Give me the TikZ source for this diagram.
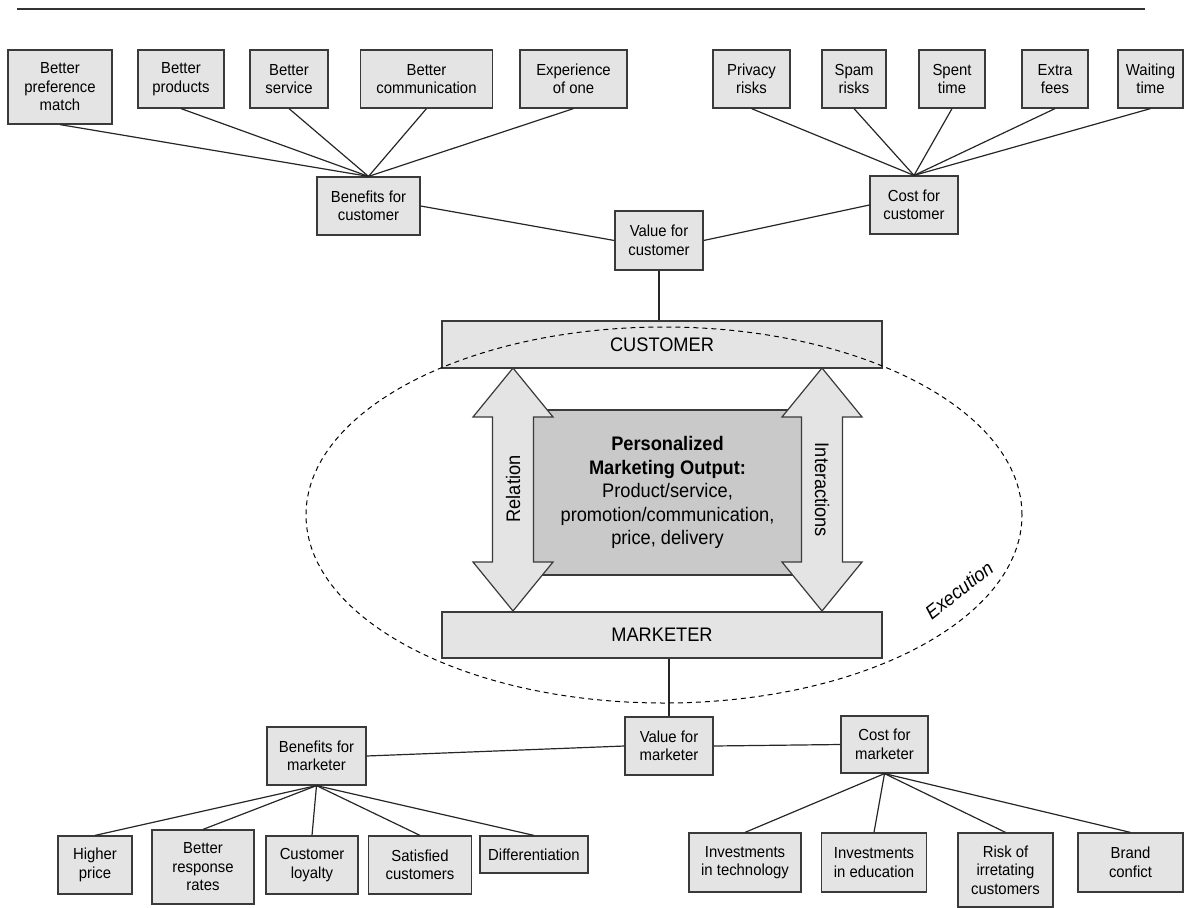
\documentclass[tikz,border=0pt]{standalone}
\usepackage{fontspec}
\setmainfont{Liberation Sans}[FakeStretch=0.93]
\definecolor{boxgray}{HTML}{E4E4E4}
\definecolor{midgray}{HTML}{C9C9C9}
\definecolor{edge}{HTML}{3A3A3A}
\begin{document}
\begin{tikzpicture}[x=1pt, y=-1pt]
		\tikzset{bx/.style={rectangle, draw=edge, fill=boxgray, line width=1.2pt, inner sep=0pt, align=center, font=\fontsize{16}{18.5}\selectfont}};
		\tikzset{bigtxt/.style={font=\fontsize{19.6}{23.5}\selectfont}};
		\tikzset{bar/.style={bx, bigtxt, minimum width=440pt, minimum height=47pt}};
		\tikzset{ln/.style={line width=1.2pt, black!85}};

		\useasboundingbox (0,0) rectangle (1185,907);
		\draw[line width=2pt, black!80] (17,9.5) -- (1145,9.5);

		\node[bx, minimum width=104pt, minimum height=74pt] (pref) at (60, 87) {Better\\preference\\match};
		\node[bx, minimum width=86pt, minimum height=58pt] (prod) at (181, 79) {Better\\products};
		\node[bx, minimum width=78pt, minimum height=58pt] (serv) at (289, 79) {Better\\service};
		\node[bx, minimum width=132pt, minimum height=58pt] (comm) at (426.5, 79) {Better\\communication};
		\node[bx, minimum width=107pt, minimum height=58pt] (one) at (573.5, 79) {Experience\\of one};
		\node[bx, minimum width=77pt, minimum height=58pt] (priv) at (751.5, 79) {Privacy\\risks};
		\node[bx, minimum width=64pt, minimum height=58pt] (spam) at (854, 79) {Spam\\risks};
		\node[bx, minimum width=66pt, minimum height=58pt] (spent) at (952, 79) {Spent\\time};
		\node[bx, minimum width=66pt, minimum height=58pt] (fees) at (1055, 79) {Extra\\fees};
		\node[bx, minimum width=65pt, minimum height=58pt] (wait) at (1150.5, 79) {Waiting\\time};

		\node[bx, minimum width=103pt, minimum height=58pt] (bc) at (368.5, 206) {Benefits for\\customer};
		\node[bx, minimum width=88pt, minimum height=58pt] (cc) at (914, 205) {Cost for\\customer};
		\node[bx, minimum width=88pt, minimum height=59pt] (vc) at (659, 240.5) {Value for\\customer};

		\node[bar] (cust) at (662, 344.5) {CUSTOMER};
		\node[bar, minimum height=46pt] (mkt) at (662, 635) {MARKETER};

		\node[bx, bigtxt, fill=midgray, minimum width=269pt, minimum height=165pt] (out) at (667.5, 492.5) {\textbf{Personalized}\\\textbf{Marketing Output:}\\Product/service,\\promotion/communication,\\price, delivery};

		\filldraw[fill=boxgray, draw=edge, line width=1.2pt] (513,368) -- (553,417) -- (533.5,417) -- (533.5,562) -- (553,562) -- (513,611) -- (473,562) -- (492.5,562) -- (492.5,417) -- (473,417) -- cycle;
		\filldraw[fill=boxgray, draw=edge, line width=1.2pt] (822,368) -- (862,417) -- (842.5,417) -- (842.5,562) -- (862,562) -- (822,611) -- (782,562) -- (801.5,562) -- (801.5,417) -- (782,417) -- cycle;
		\node[bigtxt, rotate=90] (rel) at (513, 489) {Relation};
		\node[bigtxt, rotate=-90] (inter) at (822, 490) {Interactions};

		\node[bx, minimum width=88pt, minimum height=58pt] (vm) at (669, 746) {Value for\\marketer};
		\node[bx, minimum width=87pt, minimum height=57pt] (cm) at (884.5, 744.5) {Cost for\\marketer};
		\node[bx, minimum width=99pt, minimum height=58pt] (bm) at (316.5, 756) {Benefits for\\marketer};

		\node[bx, minimum width=74pt, minimum height=58pt] (price) at (95, 865) {Higher\\price};
		\node[bx, minimum width=102pt, minimum height=74pt] (resp) at (203, 867) {Better\\response\\rates};
		\node[bx, minimum width=92pt, minimum height=58pt] (loyal) at (312, 865) {Customer\\loyalty};
		\node[bx, minimum width=103pt, minimum height=58pt] (sat) at (420, 865) {Satisfied\\customers};
		\node[bx, minimum width=108pt, minimum height=37pt] (diff) at (534, 854.5) {Differentiation};
		\node[bx, minimum width=112pt, minimum height=59pt] (tech) at (745, 862.5) {Investments\\in technology};
		\node[bx, minimum width=105pt, minimum height=59pt] (edu) at (874, 862.5) {Investments\\in education};
		\node[bx, minimum width=95pt, minimum height=74pt] (irr) at (1005.5, 870) {Risk of\\irretating\\customers};
		\node[bx, minimum width=105pt, minimum height=59pt] (brand) at (1130.5, 862.5) {Brand\\confict};

		\draw[ln] (pref.south) to (bc.north);
		\draw[ln] (prod.south) to (bc.north);
		\draw[ln] (serv.south) to (bc.north);
		\draw[ln] (comm.south) to (bc.north);
		\draw[ln] (one.south) to (bc.north);

		\draw[ln] (priv.south) to (cc.north);
		\draw[ln] (spam.south) to (cc.north);
		\draw[ln] (spent.south) to (cc.north);
		\draw[ln] (fees.south) to (cc.north);
		\draw[ln] (wait.south) to (cc.north);

		\draw[ln] (bc.east) to (vc.west);
		\draw[ln] (cc.west) to (vc.east);
		\draw[ln] (vc.south) to (vc.south |- cust.north);

		\draw[ln] (mkt.south -| vm.north) to (vm.north);
		\draw[ln] (bm.east) to (vm.west);
		\draw[ln] (vm.east) to (cm.west);

		\draw[ln] (bm.south) to (price.north);
		\draw[ln] (bm.south) to (resp.north);
		\draw[ln] (bm.south) to (loyal.north);
		\draw[ln] (bm.south) to (sat.north);
		\draw[ln] (bm.south) to (diff.north);

		\draw[ln] (cm.south) to (tech.north);
		\draw[ln] (cm.south) to (edu.north);
		\draw[ln] (cm.south) to (irr.north);
		\draw[ln] (cm.south) to (brand.north);

		\draw[line width=1pt, dash pattern=on 5pt off 4pt] (664,515) ellipse [x radius=358pt, y radius=188pt];
		\node[font=\fontsize{19.6}{23.5}\selectfont\itshape, rotate=38] (exec) at (959, 590) {Execution};
	\end{tikzpicture}
\end{document}
